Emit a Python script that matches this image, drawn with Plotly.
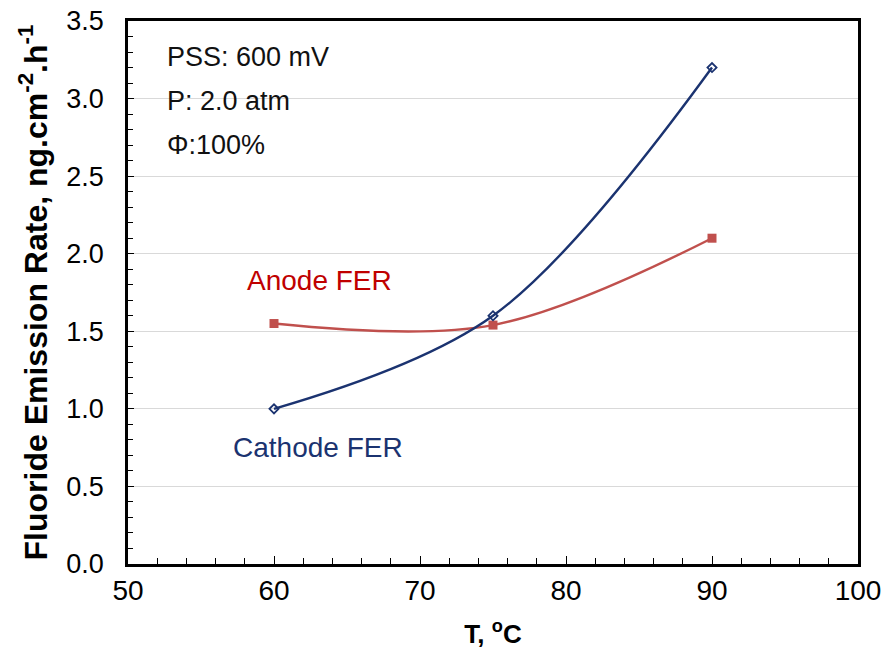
import plotly.graph_objects as go

temps = [60, 75, 90]
cathode_fer = [1.0, 1.6, 3.2]
anode_fer = [1.55, 1.54, 2.1]

FONT = "Liberation Sans, Arial, sans-serif"
NAVY = "#1B3370"
RED = "#C0504D"

fig = go.Figure()
fig.add_trace(go.Scatter(
    x=temps, y=anode_fer, mode="lines+markers", name="Anode FER",
    line=dict(color=RED, width=2.4, shape="spline", smoothing=1.0),
    marker=dict(symbol="square", size=9, color=RED),
))
fig.add_trace(go.Scatter(
    x=temps, y=cathode_fer, mode="lines+markers", name="Cathode FER",
    line=dict(color=NAVY, width=2.4, shape="spline", smoothing=1.0),
    marker=dict(symbol="diamond-open", size=7, color=NAVY, line=dict(width=1.8)),
))

for i, txt in enumerate(["PSS: 600 mV", "P: 2.0 atm", "Φ:100%"]):
    fig.add_annotation(x=0.05, y=3.27 - i * 0.284, xref="paper", yref="y", text=txt,
                       showarrow=False, xanchor="left", yanchor="middle",
                       font=dict(family=FONT, size=27, color="#111111"))

fig.add_annotation(x=63.15, y=1.83, text="Anode FER", showarrow=False,
                   font=dict(family=FONT, size=28, color="#C00000"))
fig.add_annotation(x=63.0, y=0.754, text="Cathode FER", showarrow=False,
                   font=dict(family=FONT, size=28, color=NAVY))

fig.update_layout(
    width=894, height=655,
    margin=dict(l=128, r=36, t=21, b=91),
    paper_bgcolor="white", plot_bgcolor="white",
    showlegend=False,
    font=dict(family=FONT, size=20, color="black"),
)
fig.update_xaxes(
    range=[50, 100], dtick=10, tick0=50, automargin=False,
    showline=True, linewidth=2.5, linecolor="black", mirror=True,
    ticks="inside", ticklen=8, tickwidth=1, tickcolor="black",
    minor=dict(dtick=2, ticks="inside", ticklen=6, tickwidth=1, tickcolor="black"),
    showgrid=False, zeroline=False,
    ticklabelstandoff=0,
    title=dict(text="<b>T, <sup>o</sup>C</b>", font=dict(family=FONT, size=26), standoff=20),
    tickfont=dict(family=FONT, size=28),
)
fig.update_yaxes(
    range=[0, 3.5], dtick=0.5, tick0=0, tickformat=".1f", automargin=False,
    showline=True, linewidth=2.5, linecolor="black", mirror=True,
    ticks="inside", ticklen=6, tickwidth=1, tickcolor="black",
    minor=dict(dtick=0.1, ticks="inside", ticklen=5, tickwidth=1, tickcolor="black", showgrid=False),
    showgrid=True, gridcolor="#D9D9D9", gridwidth=1, zeroline=False,
    ticklabelstandoff=16,
    title=dict(text="<b>Fluoride Emission Rate, ng.cm<sup>-2</sup>.h<sup>-1</sup></b>",
               font=dict(family=FONT, size=32), standoff=10),
    tickfont=dict(family=FONT, size=27),
)

fig.write_html("out.html")
